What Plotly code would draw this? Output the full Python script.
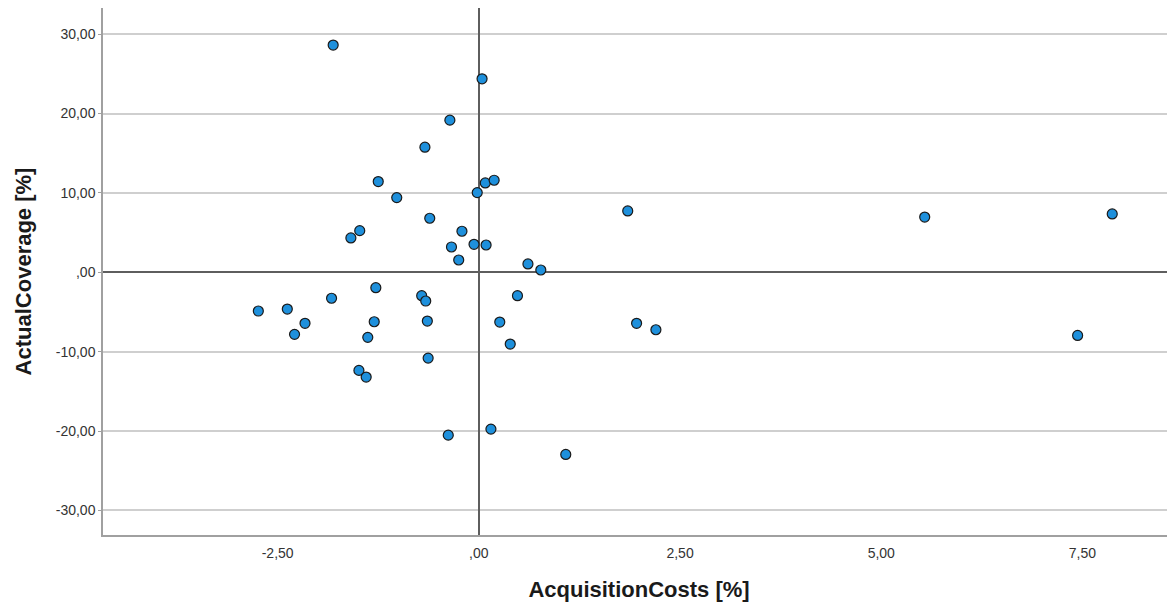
import plotly.graph_objects as go

acquisition_costs = [-1.81, 0.04, -0.36, -0.67, -1.25, 0.08, 0.19, -1.02, -0.02, 1.85,
                     5.54, 7.87, -0.61, -1.59, -1.48, -0.21, -0.34, -0.06, 0.09, -0.25,
                     0.61, 0.77, -1.28, -1.83, -0.71, -0.66, 0.48, -2.74, -2.38, -2.16,
                     -2.29, -1.30, -0.64, 0.26, 1.96, 2.20, -1.38, 0.39, 7.44, -0.63,
                     -1.49, -1.40, -0.38, 0.15, 1.08]
actual_coverage = [28.63, 24.38, 19.17, 15.76, 11.43, 11.26, 11.60, 9.41, 10.04, 7.73,
                   6.96, 7.35, 6.81, 4.33, 5.25, 5.17, 3.19, 3.53, 3.44, 1.55,
                   1.05, 0.29, -1.94, -3.27, -2.95, -3.62, -2.95, -4.88, -4.63, -6.43,
                   -7.82, -6.23, -6.14, -6.27, -6.43, -7.24, -8.20, -9.04, -7.96, -10.81,
                   -12.36, -13.20, -20.52, -19.76, -22.95]

x_tickvals = [-2.5, 0, 2.5, 5, 7.5]
x_ticktext = ["-2,50", ",00", "2,50", "5,00", "7,50"]
y_tickvals = [-30, -20, -10, 0, 10, 20, 30]
y_ticktext = ["-30,00", "-20,00", "-10,00", ",00", "10,00", "20,00", "30,00"]

fig = go.Figure()
fig.add_trace(go.Scatter(
    x=acquisition_costs, y=actual_coverage, mode="markers",
    marker=dict(size=10, color="#1e90dc", line=dict(color="#1a1a1a", width=1.2)),
    showlegend=False, hoverinfo="x+y",
))

fig.update_layout(
    width=1167, height=594,
    margin=dict(l=95, r=0, t=0, b=67, autoexpand=False),
    paper_bgcolor="white", plot_bgcolor="white",
    font=dict(family="Liberation Sans, Arial, sans-serif", color="#333333"),
    xaxis=dict(
        range=[-4.67, 8.65], tickvals=x_tickvals, ticktext=x_ticktext,
        showgrid=False, zeroline=True, zerolinecolor="#5e5e5e", zerolinewidth=2,
        showline=True, linecolor="#a0a0a0", linewidth=1.5,
        ticks="", ticklabelstandoff=4, tickfont=dict(size=14, color="#333333"),
        title=dict(text="<b>AcquisitionCosts [%]</b>", font=dict(size=22, color="#1a1a1a"), standoff=24),
    ),
    yaxis=dict(
        range=[-33.1, 33.3], tickvals=y_tickvals, ticktext=y_ticktext,
        showgrid=True, gridcolor="#cfcfcf", gridwidth=1.5,
        zeroline=True, zerolinecolor="#5e5e5e", zerolinewidth=2,
        showline=True, linecolor="#a0a0a0", linewidth=1.5,
        ticks="outside", ticklen=3, tickcolor="#a0a0a0",
        tickfont=dict(size=14, color="#333333"),
        title=dict(text="<b>ActualCoverage [%]</b>", font=dict(size=22, color="#1a1a1a"), standoff=18),
    ),
)

fig.write_html("out.html")
